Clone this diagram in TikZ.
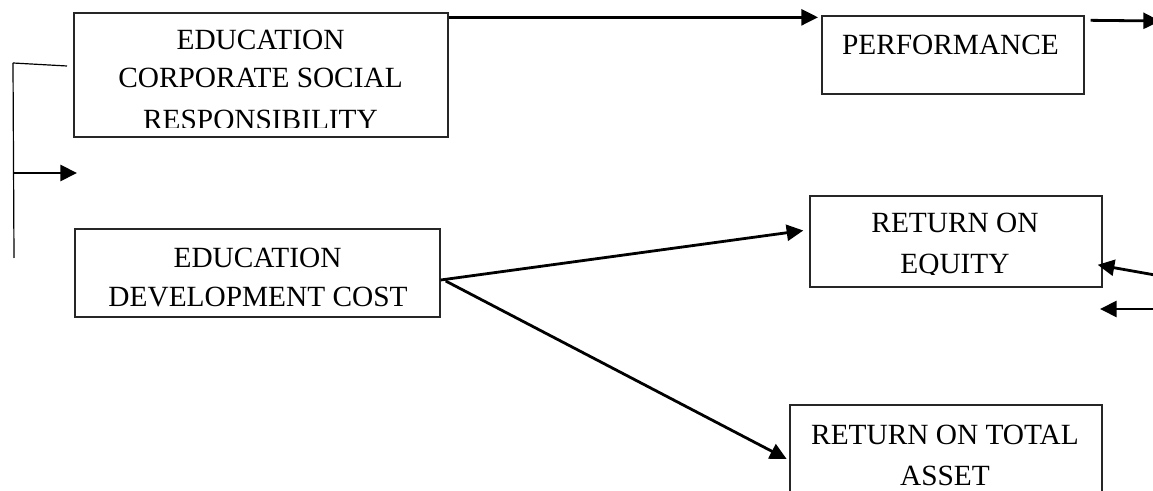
\documentclass[tikz,border=0pt]{standalone}
\usepackage{fontspec}
\setmainfont{Liberation Serif}
\usetikzlibrary{arrows.meta}
\begin{document}
\begin{tikzpicture}[x=0.75pt,y=-0.75pt,
  box/.style={draw=black!85,line width=1pt,rectangle,inner sep=0pt},
  lbl/.style={anchor=base,inner sep=0pt,font=\fontsize{22}{29}\selectfont},
  arr/.style={line width=2.1pt,-{Triangle[length=12.5pt,width=12pt]}},
  thin/.style={line width=0.9pt}]
\useasboundingbox (0,0) rectangle (1153,491);
\clip (0,0) rectangle (1153,491);
% boxes
\node[box,minimum width=374*0.75pt,minimum height=124*0.75pt] (csr) at (261,75) {};
\node[box,minimum width=365*0.75pt,minimum height=88*0.75pt] (edc) at (257.5,273) {};
\node[box,minimum width=262*0.75pt,minimum height=78*0.75pt] (perf) at (953,55) {};
\node[box,minimum width=292*0.75pt,minimum height=91*0.75pt] (roe) at (956,241.5) {};
\node[box,minimum width=312*0.75pt,minimum height=100*0.75pt] (rota) at (946,455) {};
% texts
\node[lbl] (t1) at (260.5,50) {EDUCATION};
\node[lbl] (t2) at (260.5,88) {CORPORATE SOCIAL};
\begin{scope}
\clip (80,100) rectangle (440,127.5);
\node[lbl] (t3) at (260.5,129.5) {RESPONSIBILITY};
\end{scope}
\node[lbl] (t4) at (257.5,268) {EDUCATION};
\node[lbl] (t5) at (258,307) {DEVELOPMENT COST};
\node[lbl] (t6) at (950.5,55) {PERFORMANCE};
\node[lbl] (t7) at (955,233) {RETURN ON};
\begin{scope}
\clip (820,245) rectangle (1090,274.5);
\node[lbl] (t8) at (955,274) {EQUITY};
\end{scope}
\node[lbl] (t9) at (945,445) {RETURN ON TOTAL};
\node[lbl] (t10) at (945,485) {ASSET};
% free ends
\coordinate (pr) at (1160,21);
\coordinate (br1) at (13,63);
\coordinate (br2) at (67,66);
\coordinate (br3) at (14,258);
\coordinate (ba) at (13,173);
\coordinate (bt) at (77,173);
\coordinate (r1) at (1155,275);
\coordinate (r2) at (1155,309);
\coordinate (r2t) at (1100,309);
% connectors
\draw[arr] ([yshift=-3.75pt]csr.north east) -- ([xshift=-2.5pt,yshift=-1.5pt]perf.north west);
\draw[arr] ([xshift=4.5pt,yshift=-3.75pt]perf.north east) -- (pr);
\draw[thin] (br1) -- (br2);
\draw[thin] (br1) -- (br3);
\draw[arr] (ba) -- (bt);
\draw[arr] ([yshift=-5.25pt]edc.east) -- ([xshift=-4.5pt,yshift=8.25pt]roe.west);
\draw[arr] ([xshift=3.75pt,yshift=-6pt]edc.east) -- ([xshift=-2pt,yshift=-1.5pt]rota.west |- 0,457);
\draw[arr] (r1) -- ([xshift=-3.75pt,yshift=-17.5pt]roe.east);
\draw[arr] (r2) -- (r2t);
\end{tikzpicture}
\end{document}
